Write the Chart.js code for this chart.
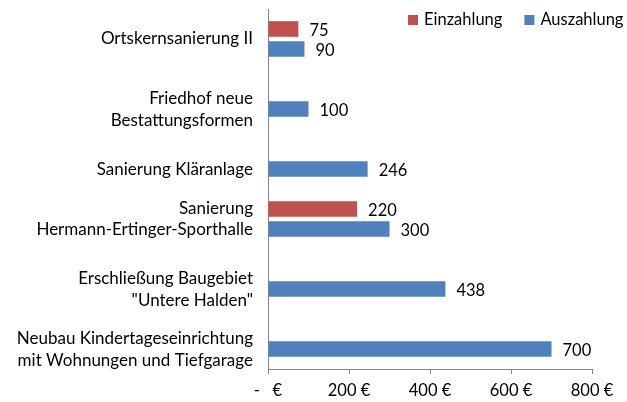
<!DOCTYPE html>
<html>
<head>
<meta charset="utf-8">
<script src="https://cdn.jsdelivr.net/npm/chart.js@4.4.1/dist/chart.umd.min.js"></script>
<style>
  html, body { margin: 0; padding: 0; background: #fff; }
  #wrap { width: 627px; height: 402px; position: relative; }
</style>
</head>
<body>
<div id="wrap"><canvas id="grafik"></canvas></div>
<script>
const kategorien = [
  ["Ortskernsanierung II"],
  ["Friedhof neue", "Bestattungsformen"],
  ["Sanierung Kläranlage"],
  ["Sanierung", "Hermann-Ertinger-Sporthalle"],
  ["Erschließung Baugebiet", "\"Untere Halden\""],
  ["Neubau Kindertageseinrichtung", "mit Wohnungen und Tiefgarage"]
];
const einzahlung = [75, null, null, 220, null, null];
const auszahlung = [90, 100, 246, 300, 438, 700];
const achsenWerte = [0, 200, 400, 600, 800];
const achsenLabels = ["-   €", "200 €", "400 €", "600 €", "800 €"];

const schrift = "Lato";
const rot = "#C0504D";
const blau = "#4F81BD";
const achsenFarbe = "#868686";

// Werte rechts neben den Balken
const wertBeschriftung = {
  id: "wertBeschriftung",
  afterDatasetsDraw(chart) {
    const ctx = chart.ctx;
    ctx.save();
    ctx.font = "16.5px " + schrift;
    ctx.fillStyle = "#000";
    ctx.textAlign = "left";
    ctx.textBaseline = "middle";
    chart.data.datasets.forEach((ds, i) => {
      chart.getDatasetMeta(i).data.forEach((bar, j) => {
        if (ds.data[j] == null) return;
        ctx.fillText(String(ds.data[j]), bar.x + 11, bar.y + 2);
      });
    });
    ctx.restore();
  }
};

// Legende oben rechts, innerhalb der Zeichenfläche
const legende = {
  id: "legende",
  afterDraw(chart) {
    const ctx = chart.ctx;
    ctx.save();
    ctx.font = "16.5px " + schrift;
    ctx.textBaseline = "middle";
    let x = 408;
    const y = 20;
    chart.data.datasets.forEach((ds) => {
      ctx.fillStyle = ds.backgroundColor;
      ctx.fillRect(x, y - 5, 10, 10);
      ctx.fillStyle = "#000";
      ctx.fillText(ds.label, x + 16, y);
      x += 16 + ctx.measureText(ds.label).width + 22;
    });
    ctx.restore();
  }
};

new Chart(document.getElementById("grafik").getContext("2d"), {
  type: "bar",
  data: {
    labels: kategorien,
    datasets: [
      {
        label: "Einzahlung",
        data: einzahlung,
        backgroundColor: rot,
        categoryPercentage: 0.667,
        barPercentage: 0.78
      },
      {
        label: "Auszahlung",
        data: auszahlung,
        backgroundColor: blau,
        categoryPercentage: 0.667,
        barPercentage: 0.78
      }
    ]
  },
  options: {
    indexAxis: "y",
    responsive: true,
    maintainAspectRatio: false,
    animation: false,
    devicePixelRatio: 1,
    layout: { padding: { top: 9, right: 35, bottom: 0, left: 0 } },
    plugins: {
      legend: { display: false },
      tooltip: { enabled: false }
    },
    scales: {
      x: {
        min: 0,
        max: 800,
        afterFit(scale) { scale.height = 33; },
        border: { color: achsenFarbe },
        grid: { drawOnChartArea: false, tickLength: 5, color: achsenFarbe },
        ticks: {
          stepSize: 200,
          padding: 7,
          color: "#000",
          font: { family: schrift, size: 16.5 },
          callback: (v) => achsenLabels[achsenWerte.indexOf(v)]
        }
      },
      y: {
        afterFit(scale) {
          scale.width = 268;
          scale.paddingTop = 0;
          scale.paddingBottom = 0;
        },
        border: { color: achsenFarbe },
        grid: { display: false, drawTicks: false },
        ticks: {
          autoSkip: false,
          padding: 15,
          color: "#000",
          font: { family: schrift, size: 17, lineHeight: 1.28 },
          // Kategorien mit nur einem Balken: Beschriftung auf Höhe des Balkens
          callback: (v, i) => einzahlung[i] == null ? [""].concat(kategorien[i]) : kategorien[i]
        }
      }
    }
  },
  plugins: [wertBeschriftung, legende]
});
</script>
</body>
</html>
